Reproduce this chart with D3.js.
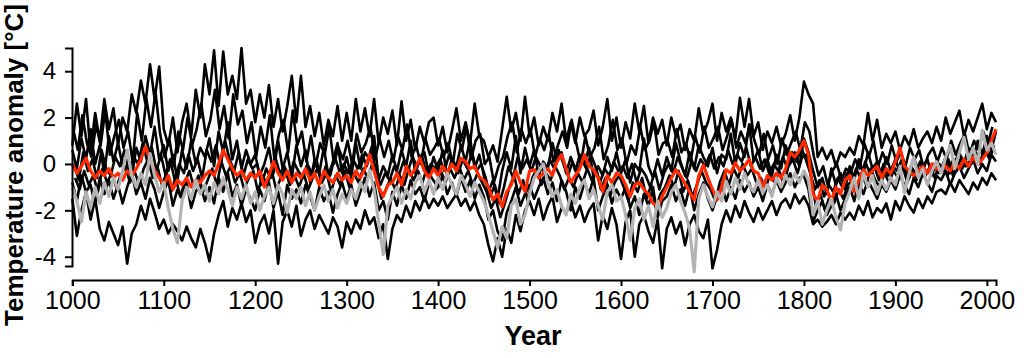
<!DOCTYPE html>
<html><head><meta charset="utf-8">
<script src="https://cdn.jsdelivr.net/npm/d3@7"></script>
<style>body{margin:0;background:#fff}svg{display:block}</style>
</head><body><svg id="c" width="1024" height="358"></svg>
<script>
const stepYears = 5;
const xTicks = [1000,1100,1200,1300,1400,1500,1600,1700,1800,1900,2000];
const yTicks = [-4,-2,0,2,4];

// black series (start 1000, every 5 years)
const highSeries = [
0.8,2.6,1.2,2.8,0.5,2.2,1.0,2.8,1.5,2.4,
0.8,2.0,1.4,3.0,2.2,3.6,2.6,4.3,2.8,4.2,
1.5,0.8,2.0,0.5,1.8,2.6,1.2,3.2,2.0,4.3,
3.0,4.9,2.5,4.85,3.0,3.8,2.8,5.0,2.6,3.2,
1.8,3.0,2.0,3.4,1.6,2.8,1.4,2.5,3.8,1.8,
3.8,1.6,2.5,1.2,2.2,0.8,1.9,1.2,2.5,1.0,
2.2,1.0,2.8,1.4,2.4,1.2,2.8,0.9,2.0,1.3,
2.3,0.8,2.7,1.0,1.9,0.6,1.6,0.9,1.8,2.0,
0.8,1.6,0.5,1.4,2.4,1.0,1.8,0.9,2.6,1.2,
1.0,0.3,0.8,0.1,1.5,2.9,1.4,2.2,1.0,2.9,
1.2,2.0,0.8,1.6,1.0,2.2,1.4,2.6,1.0,1.8,
0.9,2.0,1.2,1.5,2.3,0.8,1.6,2.8,1.0,2.0,
0.7,1.8,1.1,2.6,1.4,2.5,0.9,2.0,1.3,1.9,
0.8,2.0,1.2,1.7,0.6,1.5,1.0,2.4,1.3,1.8,
2.6,1.0,2.2,1.4,2.0,1.1,2.85,1.6,2.8,1.2,
1.8,0.6,1.4,0.9,1.6,0.8,1.3,2.1,1.0,2.0,
3.55,3.0,2.6,0.3,0.7,0.2,0.6,-0.1,0.5,0.3,
0.7,0.4,1.2,0.8,2.2,1.0,1.9,0.7,1.3,0.9,
1.4,0.6,1.2,0.8,1.5,0.7,1.1,1.4,0.9,1.6,
1.0,2.0,1.3,1.8,2.3,1.2,1.9,1.4,2.0,2.6,
1.5,2.2,1.8];

const lowSeries = [
-1.5,-3.1,-2.0,-1.2,-2.4,-1.5,-2.8,-3.3,-2.5,-3.0,
-3.5,-2.7,-4.3,-3.0,-2.6,-1.8,-2.4,-1.5,-2.1,-2.8,
-2.4,-3.0,-2.6,-2.9,-3.3,-2.7,-3.2,-3.6,-2.8,-3.4,
-4.2,-3.0,-2.2,-1.6,-2.7,-1.9,-2.4,-1.7,-2.5,-2.0,
-3.4,-2.6,-2.2,-3.0,-2.0,-4.3,-2.5,-2.0,-2.7,-1.8,
-3.1,-2.4,-2.0,-2.8,-2.2,-2.6,-3.0,-2.3,-2.7,-3.6,
-2.5,-3.0,-2.4,-2.8,-2.0,-2.6,-2.3,-3.2,-2.6,-4.1,
-2.8,-2.2,-2.5,-1.8,-2.3,-1.6,-2.0,-1.4,-1.9,-1.5,
-1.8,-1.4,-1.9,-1.6,-1.3,-1.8,-1.5,-2.0,-1.6,-2.2,
-2.6,-3.5,-4.2,-3.2,-4.0,-2.8,-3.4,-2.2,-2.9,-2.0,
-1.6,-2.2,-1.5,-2.4,-1.8,-1.4,-2.5,-1.9,-2.1,-1.6,
-2.3,-1.8,-2.5,-2.0,-1.7,-3.3,-2.2,-2.8,-1.9,-2.6,
-4.1,-2.5,-2.0,-4.0,-2.6,-2.2,-2.9,-3.4,-2.4,-4.5,
-2.8,-2.3,-3.0,-2.5,-3.5,-2.6,-2.2,-2.9,-3.2,-2.4,
-4.5,-3.7,-2.6,-2.0,-2.5,-1.8,-2.3,-1.6,-2.1,-2.5,
-1.9,-2.4,-2.0,-1.6,-2.2,-1.7,-1.5,-1.9,-1.3,-1.7,
-1.4,-1.8,-2.6,-2.4,-2.7,-2.5,-2.2,-2.6,-2.1,-2.4,
-2.1,-2.4,-1.8,-2.2,-1.6,-2.3,-1.9,-2.1,-1.7,-2.4,
-1.6,-2.0,-1.4,-1.8,-2.1,-1.5,-1.9,-1.4,-1.7,-1.2,
-1.1,-1.3,-0.8,-1.2,-0.7,-1.0,-1.3,-0.8,-1.1,-0.6,
-0.9,-0.4,-0.7];

const midUpperSeries = [
0.6,-0.2,1.1,0.2,1.5,0.0,0.8,-0.4,1.2,0.1,
0.9,-0.1,0.5,-0.6,0.7,0.1,1.2,0.4,1.6,0.2,
0.8,-0.3,0.4,-0.7,0.6,-0.2,1.0,0.0,0.7,0.3,
1.1,-0.1,1.4,0.5,1.8,0.2,1.0,-0.2,0.6,0.0,
0.4,-0.5,0.0,0.7,-0.4,1.0,-0.2,0.5,-0.6,0.8,
-0.1,0.6,-0.8,0.2,-0.4,0.7,-0.5,0.1,0.9,-0.4,
0.3,-0.6,0.9,-0.2,0.5,0.2,1.2,-0.7,-0.1,-0.5,
0.4,-0.3,0.6,-0.1,1.0,-0.4,0.2,0.5,-0.5,0.3,
-0.3,0.6,-0.5,0.2,-0.1,0.8,0.1,1.1,-0.2,0.4,
-0.5,-1.2,-0.7,-1.5,-0.3,0.5,-0.2,1.2,-0.4,0.7,
-0.1,0.6,-0.5,0.1,-0.2,0.9,0.2,0.5,-0.4,0.3,
-0.3,0.4,0.0,0.7,-0.6,-0.1,-0.5,0.3,-0.3,0.5,
-0.4,0.2,-0.8,0.0,-0.3,1.1,-0.1,-0.6,0.2,-0.5,
0.3,-0.3,0.9,0.1,-0.5,0.5,-0.2,0.8,0.3,-0.1,
0.7,-0.4,0.4,0.2,1.3,0.0,0.9,0.3,1.7,0.1,
0.6,-0.3,0.2,-0.5,0.4,-0.2,0.8,0.1,0.5,-0.1,
1.1,0.5,-0.3,-1.0,-0.6,-1.3,-0.2,-0.9,-0.4,-1.1,
-0.1,-0.7,0.2,-0.4,0.5,-0.2,0.1,-0.5,0.3,-0.3,
0.2,-0.4,0.0,-0.6,0.3,-0.3,-0.1,0.2,-0.5,0.1,
-0.2,0.3,-0.4,0.1,0.5,-0.1,0.7,0.2,1.0,0.4,
1.2,0.6,1.4];

const midLowerSeries = [
-0.8,-1.6,-0.5,-1.2,-0.9,-1.8,-0.6,-1.3,-0.7,-1.5,
-0.9,-1.7,-1.0,-0.4,-1.3,-0.8,-1.5,-0.6,-1.1,-1.9,
-1.2,-0.7,-1.8,-1.1,-1.5,-0.8,-1.9,-1.2,-0.9,-1.6,
-1.0,-1.7,-0.6,-1.2,-0.4,-1.4,-0.9,-1.8,-1.1,-1.5,
-2.0,-1.1,-1.6,-0.8,-1.9,-1.2,-2.2,-0.9,-1.5,-1.1,
-1.7,-0.9,-1.4,-2.0,-1.0,-1.6,-1.2,-2.1,-1.3,-0.8,
-1.5,-0.9,-1.8,-1.2,-0.6,-1.4,-0.8,-2.0,-1.6,-2.4,
-1.2,-1.8,-0.9,-1.5,-0.7,-1.3,-1.0,-1.6,-0.8,-1.2,
-1.0,-0.5,-1.3,-0.8,-1.4,-0.6,-1.2,-0.7,-1.5,-0.9,
-1.4,-2.4,-2.0,-2.9,-3.3,-2.1,-1.6,-1.0,-1.8,-1.3,
-0.9,-1.5,-1.0,-0.6,-1.3,-0.8,-1.6,-0.7,-1.2,-2.0,
-1.0,-1.5,-0.8,-1.3,-0.6,-2.0,-1.4,-0.9,-1.7,-1.1,
-1.5,-1.0,-1.9,-1.4,-2.2,-1.3,-1.8,-1.0,-2.3,-1.6,
-1.4,-0.9,-1.6,-1.1,-1.8,-1.0,-2.0,-1.3,-0.8,-1.5,
-2.0,-1.4,-0.9,-1.6,-1.0,-1.5,-0.7,-1.2,-0.8,-1.4,
-1.0,-1.6,-0.9,-1.3,-0.7,-1.2,-0.8,-0.4,-1.0,-0.6,
-0.5,-1.1,-2.5,-2.0,-1.6,-2.2,-1.8,-1.3,-2.0,-1.5,
-1.0,-1.6,-0.8,-1.3,-0.7,-1.1,-1.5,-0.9,-1.2,-0.7,
-1.1,-0.5,-0.9,-1.3,-0.6,-1.0,-0.4,-0.8,-1.2,-0.5,
-0.7,-0.3,-0.9,-0.4,-0.1,-0.6,-0.2,0.2,-0.4,0.0,
-0.3,0.4,0.1];

// black series (start 1001, every 5 years)
const midTopSeries = [
1.5,0.6,2.1,0.9,0.3,1.7,0.8,2.3,0.4,1.2,
1.9,0.7,1.4,0.1,2.2,1.0,2.8,1.6,3.1,1.3,
0.3,1.1,-0.1,1.4,0.6,2.0,0.8,1.5,2.6,1.2,
1.9,3.2,1.5,2.5,1.1,3.0,1.7,2.3,0.9,1.8,
0.3,1.6,0.7,2.1,0.2,1.3,1.9,0.5,2.3,0.8,
1.4,0.1,1.2,-0.1,0.9,0.4,1.6,0.0,0.7,0.2,
1.0,0.0,1.3,0.5,0.9,1.6,0.2,1.1,0.3,1.0,
0.1,1.2,0.6,1.7,0.3,0.8,0.0,1.1,0.4,0.7,
1.1,0.3,0.9,0.0,1.3,0.6,1.6,0.2,1.0,1.3,
0.0,0.3,-0.8,-0.1,0.3,1.2,1.8,0.5,1.5,0.9,
1.5,0.3,1.1,0.6,1.3,0.1,0.8,1.4,0.7,1.9,
0.9,0.0,1.2,0.3,0.7,1.6,0.2,0.8,1.9,0.6,
1.1,0.0,0.8,0.4,1.6,0.6,1.0,1.8,0.4,0.9,
1.0,0.3,1.5,0.5,0.9,0.1,1.2,0.5,1.6,0.7,
1.1,1.6,0.6,1.2,1.9,0.7,1.4,0.9,1.7,1.0,
0.4,1.3,0.2,0.8,0.0,1.1,0.4,0.9,1.4,0.6,
1.8,1.4,0.3,-0.5,-0.1,-0.9,-0.3,0.0,-0.7,-0.2,
-0.4,0.2,-0.2,0.9,0.3,1.0,-0.1,0.5,0.0,0.8,
0.1,0.5,-0.1,0.7,0.2,0.6,-0.2,0.4,0.7,0.1,
0.7,0.2,1.0,0.4,0.9,1.3,0.4,1.0,0.6,1.4,
0.8,1.6];

// black series (start 1002, every 5 years)
const midCentreSeries = [
0.0,-0.7,0.5,-0.3,0.2,-0.6,0.6,-0.2,-0.5,0.3,
-0.1,0.6,-0.4,0.3,0.0,0.9,0.1,0.7,-0.3,0.4,
-0.5,0.2,-0.7,0.0,-0.4,0.4,-0.3,0.2,-0.6,0.6,
0.1,0.8,-0.1,1.0,0.2,-0.3,0.5,-0.5,0.2,-0.2,
0.0,-0.9,-0.2,-0.6,0.3,-0.4,-0.1,-0.8,0.1,-0.3,
-0.6,0.0,-0.4,0.2,-0.8,-0.1,-0.5,0.3,-0.3,0.0,
-0.4,0.2,-0.2,0.4,-0.1,0.7,-0.3,-0.9,-0.4,-0.7,
-0.1,-0.5,0.1,-0.3,0.3,-0.1,0.4,-0.4,0.0,-0.2,
0.2,-0.3,0.4,-0.1,-0.4,0.2,-0.2,0.5,-0.3,0.0,
-0.6,-1.4,-0.9,-1.7,-1.0,-0.1,-0.6,0.3,-0.2,0.2,
-0.3,0.3,-0.1,-0.4,0.2,-0.2,0.6,0.0,-0.5,0.1,
-0.4,0.2,-0.2,0.4,-0.1,-0.8,-0.2,-0.5,0.1,-0.3,
-0.1,-0.6,0.0,-0.8,-0.2,-0.5,-1.0,-0.3,-1.1,-0.4,
0.0,-0.4,0.3,-0.2,-0.6,0.1,-0.3,0.2,-0.1,0.4,
-0.2,0.3,-0.1,0.6,0.0,0.4,0.1,0.7,-0.1,0.3,
-0.2,0.2,-0.4,0.0,-0.3,0.3,-0.2,0.5,0.1,0.7,
0.2,-0.4,-1.1,-0.7,-1.4,-0.9,-1.2,-0.6,-1.0,-0.4,
-0.8,-0.2,-0.6,0.1,-0.4,-0.1,-0.7,0.0,-0.5,-0.1,
-0.3,0.2,-0.6,-0.1,-0.4,0.1,-0.5,-0.2,0.0,-0.4,
-0.1,-0.5,0.1,-0.3,0.3,-0.1,0.2,0.5,0.0,0.6,
0.3,0.8];

// black series (start 1003, every 5 years)
const midBelowSeries = [
-0.6,-1.1,-0.3,-0.9,-0.5,-1.2,-0.2,-0.8,-0.4,-1.0,
-0.5,-0.1,-0.8,-0.3,-0.9,-0.2,0.2,-0.6,-0.1,-0.9,
-0.4,-1.2,-0.6,-1.4,-0.8,-0.3,-1.0,-0.5,-1.2,-0.7,
-0.2,-0.9,0.1,-0.5,-0.1,-0.8,-0.4,-1.1,-0.6,-0.3,
-1.2,-0.5,-0.9,-0.3,-1.1,-0.6,-0.2,-0.9,-0.5,-1.0,
-0.4,-1.1,-0.6,-0.2,-0.8,-0.4,-1.2,-0.5,-0.9,-0.3,
-1.0,-0.4,-0.8,-0.2,-0.6,0.0,-0.7,-1.5,-1.1,-0.6,
-1.1,-0.5,-0.9,-0.2,-0.7,-0.3,-0.8,-0.1,-0.6,-0.9,
-0.3,-0.8,-0.2,-0.6,-0.1,-0.7,-0.3,-0.9,-0.4,-0.8,
-1.2,-1.9,-1.5,-2.3,-1.7,-1.0,-0.5,-1.3,-0.7,-1.6,
-0.6,-0.2,-0.9,-0.4,-0.7,-0.1,-0.5,-1.1,-0.6,-1.0,
-0.4,-0.8,-0.2,-0.7,-0.3,-1.1,-0.6,-1.4,-0.8,-0.5,
-1.0,-1.6,-0.8,-1.2,-0.6,-1.5,-0.9,-1.9,-1.3,-1.0,
-0.5,-1.0,-0.3,-1.2,-0.7,-1.4,-0.9,-0.3,-0.8,-1.1,
-1.6,-0.8,-0.3,-0.9,-0.2,-0.6,0.0,-0.5,-0.2,-0.8,
-0.6,-1.1,-0.4,-0.8,-0.3,-0.9,-0.1,0.2,-0.4,0.3,
0.4,-0.6,-1.8,-1.3,-2.0,-1.4,-1.7,-1.1,-1.5,-0.9,
-0.7,-1.2,-0.4,-0.9,-0.2,-0.7,-1.0,-0.4,-0.8,-0.3,
-0.6,-0.1,-0.8,-0.3,-0.7,-0.2,-0.5,-0.1,-0.6,0.0,
-0.3,0.2,-0.5,0.1,-0.2,0.4,0.0,0.5,0.1,0.7,
0.2,0.8];

// multi-series mean (red) and grey series, start 1000, every 5 years
const meanSeries = [
0.0,-0.4,-0.1,0.25,-0.3,-0.6,-0.3,-0.5,-0.2,-0.6,
-0.4,-0.7,-0.3,-0.5,-0.2,0.2,0.75,0.2,-0.3,-0.6,
-0.9,-0.5,-1.1,-0.7,-0.9,-0.6,-1.0,-0.7,-0.8,-0.5,
-0.3,-0.5,0.0,0.6,0.2,-0.2,-0.5,-0.3,-0.7,-0.4,
-0.6,-0.3,-1.0,-0.5,0.1,-0.4,-0.7,-0.3,-0.8,-0.4,
-0.6,-0.2,-0.7,-0.4,-0.9,-0.3,-0.6,-0.8,-0.4,-0.7,
-0.5,-0.8,-0.3,-0.6,-0.2,0.4,-0.3,-1.0,-1.4,-0.9,
-0.8,-0.4,-0.9,-0.1,-0.5,-0.2,0.25,-0.3,-0.6,-0.2,
-0.5,-0.1,-0.4,0.0,-0.3,0.25,0.1,-0.2,-0.1,-0.55,
-0.7,-1.0,-1.55,-1.3,-1.85,-1.2,-0.9,-0.3,-0.8,-1.2,
-0.3,-0.25,-0.6,-0.4,-0.2,-0.5,0.1,0.4,-0.2,-0.8,
-0.5,-0.2,0.4,-0.1,-0.25,-0.6,-1.2,-0.5,-0.8,-0.4,
-0.5,-0.9,-1.4,-0.9,-0.8,-1.1,-1.3,-1.7,-1.85,-1.4,
-1.0,-0.6,-0.25,-0.5,-0.85,-1.2,-1.55,-0.5,-0.05,-0.6,
-1.1,-1.55,-1.0,-0.25,-0.4,0.05,-0.3,-0.1,0.2,-0.3,
-0.4,-1.0,-0.5,-0.7,-0.4,-0.6,-0.2,0.5,0.3,0.6,
1.0,0.4,-1.3,-1.6,-0.9,-1.1,-1.6,-1.0,-1.3,-0.7,
-0.5,-1.2,-0.7,-0.25,-0.5,-0.3,-0.1,-0.6,-0.2,-0.4,
0.1,0.7,-0.1,-0.3,-0.5,-0.3,-0.1,-0.4,0.0,-0.2,
-0.3,-0.1,-0.3,0.1,-0.2,0.2,-0.1,0.3,0.0,0.2,
0.5,1.0,1.5];

const graySeries = [
-1.0,-1.6,-2.5,-1.2,-1.9,-1.0,-1.7,-0.8,-1.4,-0.6,
-1.1,-0.3,0.6,-0.5,-1.0,-0.4,-0.9,0.45,-0.5,-1.2,
-0.8,-1.9,-2.8,-3.4,-1.6,-1.0,-1.5,-0.7,-1.3,-0.9,
-1.6,-0.8,-1.3,-0.6,-1.1,-1.8,-1.0,-1.5,-0.9,-1.7,
-1.2,-2.0,-1.4,-1.0,-1.7,-0.9,-1.3,-2.1,-1.1,-1.5,
-1.0,-1.8,-1.2,-2.0,-1.4,-0.9,-1.6,-1.1,-1.9,-1.3,
-1.7,-1.1,-1.5,-0.8,-1.2,-0.25,-1.1,-2.5,-3.9,-1.8,
-1.4,-1.0,-1.7,-1.1,-1.5,-0.8,-0.5,-1.2,-0.7,-1.3,
-0.6,-1.1,-0.4,-0.9,-1.3,-0.5,-0.9,-1.4,-0.8,-1.2,
-1.6,-2.2,-2.9,-3.6,-2.7,-3.2,-1.8,-1.5,-2.6,-2.2,
-1.3,-0.6,-0.3,0.0,-0.8,-1.4,-1.1,-1.8,-2.2,-1.3,
-1.7,-1.0,-0.7,-1.5,-1.1,-1.8,-2.4,-1.2,-0.9,-1.6,
-1.4,-2.2,-3.3,-1.9,-1.5,-2.4,-1.8,-2.7,-1.6,-2.3,
-1.9,-1.2,-0.9,-1.6,-2.1,-2.8,-4.65,-1.5,-0.9,-1.4,
-1.85,-1.2,-1.6,-0.75,-1.3,-0.6,-1.1,-0.4,-0.9,-1.2,
-0.7,-1.25,-0.9,-1.4,-0.6,-1.0,-0.5,-0.9,-0.4,-0.8,
-0.3,-0.7,-2.2,-1.6,-2.6,-2.0,-1.5,-2.3,-2.85,-1.7,
-1.2,-0.6,-1.5,-0.4,-1.0,-0.5,-1.3,-0.7,-1.1,-0.6,
-0.9,-0.1,-1.25,-0.4,0.3,-0.6,-0.2,-0.9,-0.3,0.1,
-0.4,0.3,0.8,-0.2,0.5,1.15,0.2,0.7,0.0,1.45,
0.6,0.9,0.4];

const blackSeries = [
  {values: midLowerSeries, start: 1000},
  {values: midBelowSeries, start: 1003},
  {values: midCentreSeries, start: 1002},
  {values: midUpperSeries, start: 1000},
  {values: midTopSeries, start: 1001},
  {values: lowSeries, start: 1000},
  {values: highSeries, start: 1000}
];

const svg = d3.select("#c");
const x = d3.scaleLinear().domain([1000, 2010]).range([72.3, 996]);
const y = d3.scaleLinear().domain([-4.4, 5]).range([266, 48]);
const lineFrom = start => d3.line().x((d,i) => x(start + i*stepYears)).y(d => y(d));

blackSeries.forEach(s => svg.append("path").attr("d", lineFrom(s.start)(s.values)).attr("fill","none")
  .attr("stroke","#000").attr("stroke-width",2.6).attr("stroke-linejoin","round"));
svg.append("path").attr("d", lineFrom(1000)(meanSeries)).attr("fill","none")
  .attr("stroke","#ff2a00").attr("stroke-width",3.2).attr("stroke-linejoin","round");
svg.append("path").attr("d", lineFrom(1000)(graySeries)).attr("fill","none")
  .attr("stroke","#b3b3b3").attr("stroke-width",3.2).attr("stroke-linejoin","round");

const font = "'Liberation Sans', Arial, sans-serif";
const gx = svg.append("g").attr("transform","translate(0,280)")
  .call(d3.axisBottom(x).tickValues(xTicks).tickFormat(d3.format("d")).tickSizeOuter(0).tickSize(6).tickPadding(5));
const gy = svg.append("g").attr("transform","translate(72,0)")
  .call(d3.axisLeft(y).tickValues(yTicks).tickFormat(d => d).tickSizeOuter(0).tickSize(7).tickPadding(9));
[gx, gy].forEach(g => {
  g.select(".domain").attr("stroke","#000").attr("stroke-width",2);
  g.selectAll(".tick line").attr("stroke","#000").attr("stroke-width",2);
  g.selectAll(".tick text").attr("fill","#000").style("font-family",font);
});
gx.selectAll(".tick text").style("font-size","25px");
gy.selectAll(".tick text").style("font-size","24px");

svg.append("text").attr("x",533).attr("y",345).attr("text-anchor","middle")
  .style("font-family",font).style("font-weight","bold").style("font-size","27px").text("Year");
svg.append("text").attr("transform","translate(23,165) rotate(-90)").attr("text-anchor","middle")
  .style("font-family",font).style("font-weight","bold").style("font-size","26px").text("Temperature anomaly [°C]");
</script></body></html>
